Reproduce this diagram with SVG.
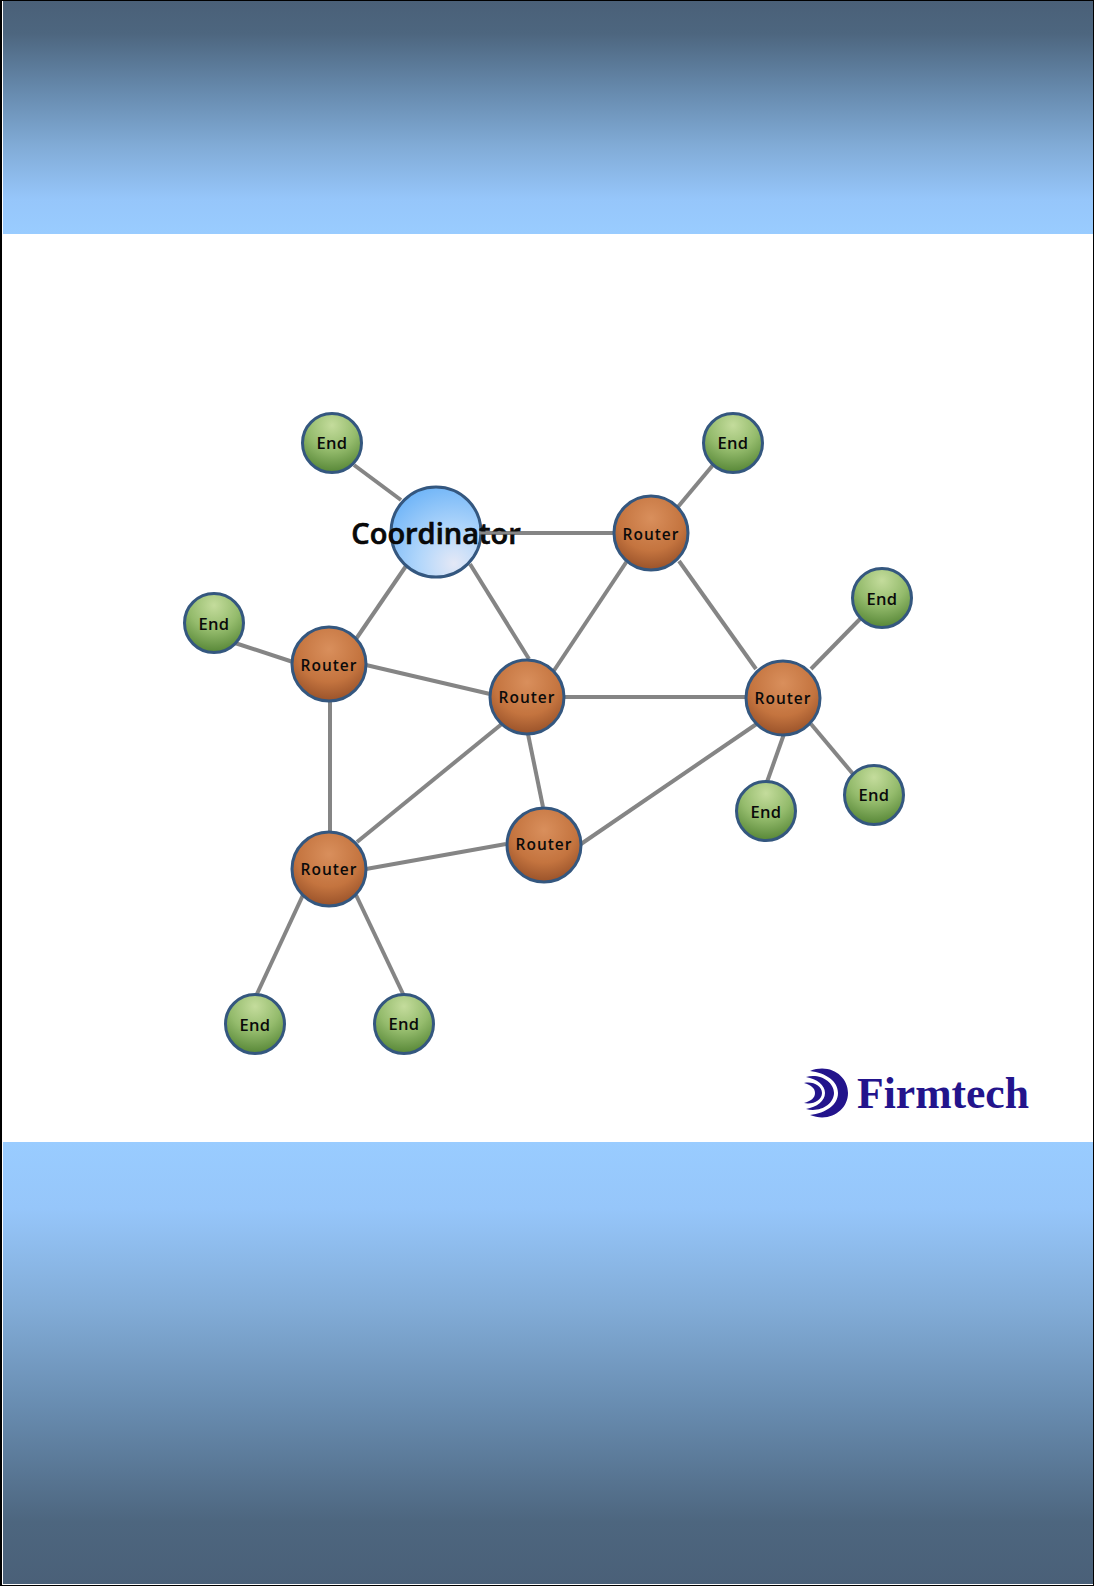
<svg xmlns="http://www.w3.org/2000/svg" width="1094" height="1586" viewBox="0 0 1094 1586">
<style>
.e{stroke:#858585;stroke-width:4;fill:none}
.r,.g,.c{stroke:#34577f;stroke-width:3}
.r{fill:url(#rg)}.g{fill:url(#gg)}.c{fill:url(#cg)}
text{font-family:"Open Sans","Noto Sans","DejaVu Sans",sans-serif;fill:#0a0a0a;text-anchor:middle}
.lr{font-size:15.5px;font-weight:600;letter-spacing:1px}
.le{font-size:16.5px;font-weight:600;letter-spacing:.3px}
.lc{font-size:29px;font-weight:600;stroke:#000;stroke-width:.6}
</style>
<defs>
<linearGradient id="top" x1="0" y1="0" x2="0" y2="1"><stop offset="0" stop-color="#4a6078"/><stop offset=".14" stop-color="#4d667f"/><stop offset=".4" stop-color="#688cb0"/><stop offset=".62" stop-color="#81abd6"/><stop offset=".85" stop-color="#96c6fa"/><stop offset="1" stop-color="#99ccff"/></linearGradient>
<linearGradient id="bot" x1="0" y1="1" x2="0" y2="0"><stop offset="0" stop-color="#4a6078"/><stop offset=".14" stop-color="#4d667f"/><stop offset=".4" stop-color="#688cb0"/><stop offset=".62" stop-color="#81abd6"/><stop offset=".85" stop-color="#96c6fa"/><stop offset="1" stop-color="#99ccff"/></linearGradient>
<radialGradient id="rg" cx=".5" cy=".3" r=".8"><stop offset="0" stop-color="#d98f5c"/><stop offset=".55" stop-color="#c4743f"/><stop offset="1" stop-color="#8a4622"/></radialGradient>
<radialGradient id="gg" cx=".5" cy=".2" r=".85"><stop offset="0" stop-color="#c4dc9c"/><stop offset=".5" stop-color="#94bb6c"/><stop offset="1" stop-color="#4f8030"/></radialGradient>
<radialGradient id="cg" cx=".7" cy=".85" r=".95"><stop offset="0" stop-color="#e4e8f6"/><stop offset=".4" stop-color="#b3d7fb"/><stop offset="1" stop-color="#6ab2f7"/></radialGradient>
</defs>
<rect width="1094" height="1586" fill="#fff"/>
<rect x="3" y="1" width="1090" height="233" fill="url(#top)"/>
<rect x="3" y="1142" width="1090" height="442" fill="url(#bot)"/>
<rect x=".5" y=".5" width="1093" height="1585" fill="none" stroke="#000"/>
<rect x="0" y="0" width="2" height="1586" fill="#000"/>
<g id="connectors">
<line class="e" x1="354" y1="465" x2="401" y2="500"/>
<line class="e" x1="475" y1="533" x2="614" y2="533"/>
<line class="e" x1="406" y1="566" x2="356" y2="639"/>
<line class="e" x1="470" y1="564" x2="529" y2="659"/>
<line class="e" x1="713" y1="465" x2="677" y2="508"/>
<line class="e" x1="627" y1="561" x2="553" y2="672"/>
<line class="e" x1="679" y1="561" x2="756" y2="669"/>
<line class="e" x1="235" y1="643" x2="293" y2="662"/>
<line class="e" x1="366" y1="665" x2="490" y2="694"/>
<line class="e" x1="330" y1="700" x2="330" y2="831"/>
<line class="e" x1="564" y1="697" x2="746" y2="697"/>
<line class="e" x1="503" y1="723" x2="357" y2="842"/>
<line class="e" x1="528" y1="734" x2="543" y2="807"/>
<line class="e" x1="366" y1="869" x2="506" y2="844"/>
<line class="e" x1="581" y1="844" x2="758" y2="723"/>
<line class="e" x1="811" y1="669" x2="860" y2="619"/>
<line class="e" x1="811" y1="724" x2="853" y2="774"/>
<line class="e" x1="784" y1="734" x2="767" y2="782"/>
<line class="e" x1="303" y1="895" x2="256" y2="996"/>
<line class="e" x1="356" y1="895" x2="404" y2="996"/>
</g>
<g id="end1"><circle class="g" cx="332" cy="443" r="29.5"/><text class="le" x="332" y="449">End</text></g>
<g id="end2"><circle class="g" cx="733" cy="443" r="29.5"/><text class="le" x="733" y="449">End</text></g>
<g id="end3"><circle class="g" cx="882" cy="598" r="29.5"/><text class="le" x="882" y="605">End</text></g>
<g id="end4"><circle class="g" cx="214" cy="623" r="29.5"/><text class="le" x="214" y="630">End</text></g>
<g id="end5"><circle class="g" cx="874" cy="795" r="29.5"/><text class="le" x="874" y="801">End</text></g>
<g id="end6"><circle class="g" cx="766" cy="811" r="29.5"/><text class="le" x="766" y="818">End</text></g>
<g id="end7"><circle class="g" cx="255" cy="1024" r="29.5"/><text class="le" x="255" y="1031">End</text></g>
<g id="end8"><circle class="g" cx="404" cy="1024" r="29.5"/><text class="le" x="404" y="1030">End</text></g>
<g id="router1"><circle class="r" cx="651" cy="533" r="37"/><text class="lr" x="651" y="540">Router</text></g>
<g id="router2"><circle class="r" cx="329" cy="664" r="37"/><text class="lr" x="329" y="671">Router</text></g>
<g id="router3"><circle class="r" cx="527" cy="697" r="37"/><text class="lr" x="527" y="703">Router</text></g>
<g id="router4"><circle class="r" cx="783" cy="698" r="37"/><text class="lr" x="783" y="704">Router</text></g>
<g id="router5"><circle class="r" cx="544" cy="845" r="37"/><text class="lr" x="544" y="850">Router</text></g>
<g id="router6"><circle class="r" cx="329" cy="869" r="37"/><text class="lr" x="329" y="875">Router</text></g>
<g id="coordinator"><circle class="c" cx="436" cy="532" r="45"/><text class="lc" x="436" y="544">Coordinator</text><line x1="479" y1="533" x2="522" y2="533" stroke="#858585" stroke-width="3"/></g>
<g id="logo" fill="#23148c">
<path d="M810 1071C830 1063 848 1076 848 1093C848 1110 830 1123 810 1115C826 1113 838 1105 838 1093C838 1081 826 1073 810 1071Z"/>
<path d="M806 1077C820 1073 834 1082 834 1093C834 1104 820 1113 806 1109C817 1107 825 1101 825 1093C825 1085 817 1079 806 1077Z"/>
<path d="M804 1083C813 1081 822 1086 822 1093C822 1100 813 1105 804 1103C811 1101 815 1098 815 1093C815 1088 811 1085 804 1083Z"/>
<text x="943" y="1108" textLength="172" lengthAdjust="spacingAndGlyphs" style="font-family:'Liberation Serif',serif;font-size:45px;font-weight:700;fill:#23148c">Firmtech</text>
</g>
</svg>
